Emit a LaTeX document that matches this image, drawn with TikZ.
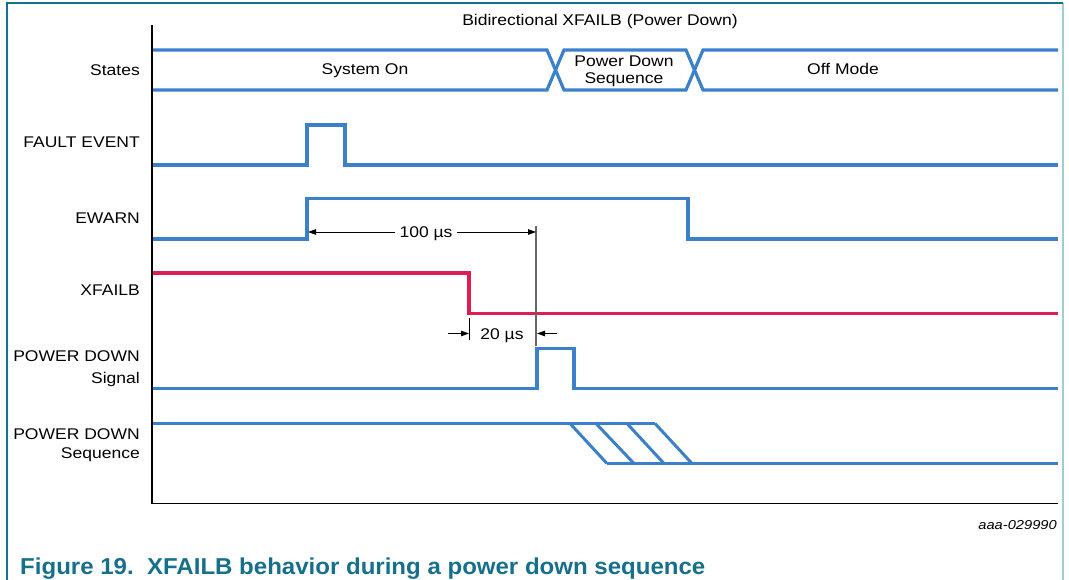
\documentclass[tikz,border=0pt]{standalone}
\usepackage{fontspec}
\setmainfont{Liberation Sans}[FakeStretch=1.13]
\newfontfamily\capfont{Liberation Sans}[FakeStretch=1.045]
\usetikzlibrary{arrows.meta}
\definecolor{sigblue}{RGB}{58,128,202}
\definecolor{sigred}{RGB}{225,28,80}
\definecolor{frameteal}{RGB}{20,115,140}
\definecolor{framelight}{RGB}{160,205,215}
\definecolor{captealc}{RGB}{22,112,140}
\tikzset{
  sig/.style={draw=sigblue, line width=3.2pt, line join=miter},
  redsig/.style={draw=sigred, line width=3.2pt, line join=miter},
  axisline/.style={draw=black, line width=1.4pt},
  lbl/.style={font=\fontsize{15.5}{17}\selectfont, inner sep=0pt},
  rlbl/.style={lbl, anchor=base east},
  clbl/.style={lbl, anchor=base},
  dimline/.style={draw=black, line width=0.9pt},
  dimarrow/.style={dimline, -{Triangle[length=8pt,width=5.5pt]}},
  vmark/.style={draw=black!60, line width=1.1pt},
}
\begin{document}
\begin{tikzpicture}[x=1pt,y=-1pt]
\useasboundingbox (0,0) rectangle (1069,580);
% frame
\draw[draw=framelight, line width=2pt] (1063,3) -- (1063,580);
\draw[draw=frameteal, line width=2.2pt] (7,2.8) -- (1063,2.8);
\draw[draw=frameteal, line width=2pt] (7,2) -- (7,580);
% axes
\coordinate (axTop) at (152,25);
\coordinate (axOrig) at (152,503.5);
\coordinate (axEnd) at (1058,503.5);
\draw[axisline] (axTop) -- (axOrig) -- (axEnd);
% title
\node[clbl] (title) at (600,26) {Bidirectional XFAILB (Power Down)};
% row labels
\node[rlbl] (lStates) at (140,75.5) {States};
\node[rlbl] (lFault) at (140,148) {FAULT EVENT};
\node[rlbl] (lEwarn) at (140,224) {EWARN};
\node[rlbl] (lXfail) at (140,295) {XFAILB};
\node[rlbl] (lPdS1) at (140,361.5) {POWER DOWN};
\node[rlbl] (lPdS2) at (140,383) {Signal};
\node[rlbl] (lPdQ1) at (140,439) {POWER DOWN};
\node[rlbl] (lPdQ2) at (140,458.5) {Sequence};
% states bus
\draw[sig] (153,50) -- (547,50) -- (564,90) -- (686,90) -- (703,50) -- (1058,50);
\draw[sig] (153,90) -- (547,90) -- (564,50) -- (686,50) -- (703,90) -- (1058,90);
\node[clbl] (sOn) at (365,74.5) {System On};
\node[clbl] (sPd1) at (624,66.5) {Power Down};
\node[clbl] (sPd2) at (624,84) {Sequence};
\node[clbl] (sOff) at (843,74.5) {Off Mode};
% fault event
\draw[sig] (153,165) -- (307,165) -- (307,125) -- (345,125) -- (345,165) -- (1058,165);
% ewarn
\coordinate (ewRise) at (307,239);
\draw[sig] (153,239) -- (ewRise) -- (307,198.5) -- (688,198.5) -- (688,239) -- (1058,239);
% xfailb
\coordinate (xfFall) at (469,313.5);
\draw[redsig] (153,273) -- (469,273) -- (xfFall) -- (1058,313.5);
% power down signal
\coordinate (pdRise) at (537,388.5);
\draw[sig] (153,388.5) -- (pdRise) -- (537,348.5) -- (574,348.5) -- (574,388.5) -- (1058,388.5);
% power down sequence
\draw[sig] (153,423.5) -- (655,423.5);
\draw[sig] (607,463.5) -- (1058,463.5);
\foreach \a/\b in {570/607,596/634,627/664,655/692}
  \draw[draw=sigblue, line width=3pt] (\a,423.5) -- (\b,463.5);
% 100 us dimension
\coordinate (d1L) at (308,232);
\coordinate (vTop) at (536,226);
\coordinate (vBot) at (536,346);
\coordinate (d1R) at (536,232);
\draw[vmark] (vTop) -- (vBot);
\node[clbl, inner xsep=4pt] (t100) at (426,237.5) {100 µs};
\draw[dimarrow] (t100.west |- d1L) -- (d1L);
\draw[dimarrow] (t100.east |- d1R) -- (d1R);
% 20 us dimension
\coordinate (tkTop) at (469,318);
\coordinate (tkBot) at (469,340);
\draw[dimline] (tkTop) -- (tkBot);
\coordinate (a2Ls) at (448,333.5);
\coordinate (a2Le) at (469,333.5);
\coordinate (a2Rs) at (557,333.5);
\coordinate (a2Re) at (537,333.5);
\draw[dimarrow] (a2Ls) -- (a2Le);
\draw[dimarrow] (a2Rs) -- (a2Re);
\node[clbl] (t20) at (502,339) {20 µs};
% reference id
\node[anchor=base east, inner sep=0pt, font=\fontsize{13}{15}\selectfont\itshape] (refid) at (1057,529) {aaa-029990};
% caption
\node[anchor=base west, inner sep=0pt, text=captealc, font=\capfont\bfseries\fontsize{23}{26}\selectfont] (cap) at (20,574.5) {Figure 19.\ \ XFAILB behavior during a power down sequence};
\end{tikzpicture}
\end{document}
